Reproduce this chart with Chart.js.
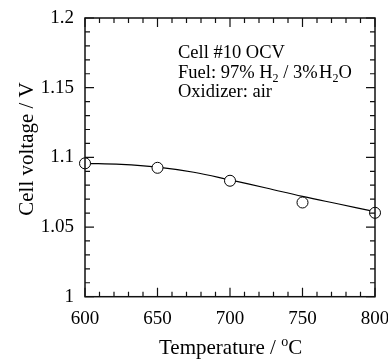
<!DOCTYPE html>
<html>
<head>
<meta charset="utf-8">
<script src="https://cdn.jsdelivr.net/npm/chart.js@4"></script>
<style>
  html, body { margin: 0; padding: 0; background: #fff; }
  #wrap { width: 388px; height: 360px; }
</style>
</head>
<body>
<div id="wrap"><canvas id="ocvChart" width="388" height="360"></canvas></div>
<script>
// measured OCV points
const temps = [600, 650, 700, 750, 800];
const ocv = [1.0957, 1.0925, 1.0832, 1.0676, 1.0602];
// fitted curve
const fitTemps = [600, 625, 650, 675, 700, 725, 750, 775, 800];
const fitOcv = [1.0957, 1.0950, 1.0930, 1.0893, 1.0838, 1.0780, 1.0720, 1.0665, 1.0610];
// labelled ticks
const xTicks = [600, 650, 700, 750, 800];
const yTicks = [1, 1.05, 1.1, 1.15, 1.2];

const FONT = "'Liberation Serif', 'Times New Roman', serif";
const INK = "#111";

function isMajor(list, v) {
  return list.some(t => Math.abs(t - v) < 1e-6);
}

// inward ticks on all four sides + frame
const frame = {
  id: "frame",
  afterDatasetsDraw(chart) {
    const { ctx, chartArea: a, scales } = chart;
    ctx.save();
    ctx.strokeStyle = INK;
    ctx.lineWidth = 1.5;
    ctx.strokeRect(a.left, a.top, a.right - a.left, a.bottom - a.top);
    ctx.lineWidth = 1.2;
    ctx.beginPath();
    scales.x.ticks.forEach(t => {
      const px = scales.x.getPixelForValue(t.value);
      const len = isMajor(xTicks, t.value) ? 9 : 5;
      ctx.moveTo(px, a.bottom); ctx.lineTo(px, a.bottom - len);
      ctx.moveTo(px, a.top); ctx.lineTo(px, a.top + len);
    });
    scales.y.ticks.forEach(t => {
      const py = scales.y.getPixelForValue(t.value);
      const len = isMajor(yTicks, t.value) ? 9 : 5;
      ctx.moveTo(a.left, py); ctx.lineTo(a.left + len, py);
      ctx.moveTo(a.right, py); ctx.lineTo(a.right - len, py);
    });
    ctx.stroke();
    ctx.restore();
  },
  afterDraw(chart) {
    const ctx = chart.ctx;
    ctx.save();
    ctx.fillStyle = "#000";
    ctx.textBaseline = "alphabetic";
    ctx.textAlign = "left";

    // note in the plot
    const f = "18.5px " + FONT;
    const fs = "12px " + FONT;
    const x0 = 178;
    ctx.font = f;
    ctx.fillText("Cell #10 OCV", x0, 58);
    let x = x0;
    const put = (txt, font, dy) => {
      ctx.font = font;
      ctx.fillText(txt, x, 77.5 + dy);
      x += ctx.measureText(txt).width;
    };
    put("Fuel: 97% H", f, 0);
    put("2", fs, 4);
    put(" / 3%", f, 0);
    x += 1.5;
    put("H", f, 0);
    put("2", fs, 4);
    put("O", f, 0);
    ctx.font = f;
    ctx.fillText("Oxidizer: air", x0, 96.7);

    // x title with superscript o
    const tf = "21px " + FONT;
    x = 159;
    ctx.font = tf;
    const base = 354;
    const seg1 = "Temperature / ";
    ctx.fillText(seg1, x, base);
    x += ctx.measureText(seg1).width;
    ctx.font = "14px " + FONT;
    ctx.fillText("o", x, base - 8);
    x += ctx.measureText("o").width;
    ctx.font = tf;
    ctx.fillText("C", x, base);

    // y title
    ctx.translate(33, 149);
    ctx.rotate(-Math.PI / 2);
    ctx.textAlign = "center";
    ctx.font = tf;
    ctx.fillText("Cell voltage / V", 0, 0);
    ctx.restore();
  }
};

const tickFont = { family: FONT, size: 19 };

new Chart(document.getElementById("ocvChart"), {
  type: "scatter",
  data: {
    datasets: [
      {
        label: "fit",
        data: fitTemps.map((t, i) => ({ x: t, y: fitOcv[i] })),
        showLine: true,
        borderColor: "#000",
        borderWidth: 1.2,
        pointRadius: 0,
        tension: 0.4,
        order: 2
      },
      {
        label: "OCV",
        data: temps.map((t, i) => ({ x: t, y: ocv[i] })),
        pointRadius: 5.5,
        pointBackgroundColor: "#fff",
        pointBorderColor: "#000",
        pointBorderWidth: 1,
        clip: false,
        order: 1
      }
    ]
  },
  options: {
    responsive: false,
    animation: false,
    layout: { padding: { left: 0, top: 18, right: 13, bottom: 0 } },
    plugins: { legend: { display: false }, tooltip: { enabled: false } },
    scales: {
      x: {
        type: "linear",
        min: 600,
        max: 800,
        grid: { display: false, drawTicks: false },
        border: { display: false },
        ticks: {
          stepSize: 10,
          autoSkip: false,
          maxRotation: 0,
          padding: 11,
          color: "#000",
          font: tickFont,
          callback: v => (isMajor(xTicks, v) ? String(Math.round(v)) : "")
        },
        afterFit: s => {
          s.height = 360 - 296.7;
          s.paddingLeft = 0; s.paddingRight = 0;
        }
      },
      y: {
        type: "linear",
        min: 1,
        max: 1.2,
        grid: { display: false, drawTicks: false },
        border: { display: false },
        ticks: {
          stepSize: 0.01,
          autoSkip: false,
          padding: 11,
          color: "#000",
          font: tickFont,
          callback: v => {
            const m = yTicks.find(t => Math.abs(t - v) < 1e-6);
            return m === undefined ? "" : String(m);
          }
        },
        afterFit: s => {
          s.width = 85;
          s.paddingTop = 0; s.paddingBottom = 0;
        }
      }
    }
  },
  plugins: [frame]
});
</script>
</body>
</html>
